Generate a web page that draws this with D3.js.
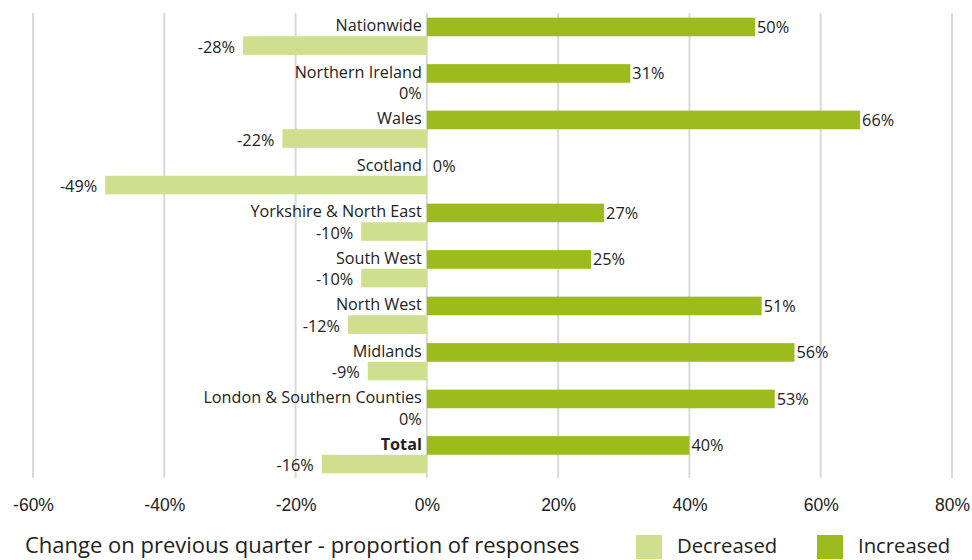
<!DOCTYPE html>
<html>
<head>
<meta charset="utf-8">
<script src="https://cdn.jsdelivr.net/npm/d3@7"></script>
<style>
  body { margin: 0; background: #fff; }
  svg { font-family: 'Source Sans Pro', 'Open Sans', sans-serif; }
</style>
</head>
<body>
<div id="app"></div>
<script>
const regions = ['Nationwide', 'Northern Ireland', 'Wales', 'Scotland', 'Yorkshire & North East',
  'South West', 'North West', 'Midlands', 'London & Southern Counties', 'Total']
const increased = [50, 31, 66, 0, 27, 25, 51, 56, 53, 40]
const decreased = [-28, 0, -22, -49, -10, -10, -12, -9, 0, -16]
const ticks = [-60, -40, -20, 0, 20, 40, 60, 80]
const series = ['Increased', 'Decreased']
const colors = { Increased: '#9cbb1c', Decreased: '#d0df8e' }

const width = 972, height = 560
const svg = d3.select('#app').append('svg').attr('width', width).attr('height', height)

const x = d3.scaleLinear().domain([-60, 80]).range([33, 952])
const y = d3.scaleBand().domain(regions).range([13, 478]).paddingInner(0.2).paddingOuter(0.1)
const sub = d3.scaleBand().domain(series).range([0, y.bandwidth()])

// gridlines
svg.append('g').selectAll('line').data(ticks).enter().append('line')
  .attr('x1', d => x(d)).attr('x2', d => x(d))
  .attr('y1', 13).attr('y2', 478)
  .attr('stroke', '#d9d9d9').attr('stroke-width', 2)

const rows = regions.map((r, i) => ({ region: r, inc: increased[i], dec: decreased[i] }))

const g = svg.append('g').selectAll('g').data(rows).enter().append('g')
  .attr('transform', d => `translate(0,${y(d.region)})`)

g.append('rect')
  .attr('x', x(0)).attr('y', sub('Increased'))
  .attr('width', d => x(d.inc) - x(0)).attr('height', sub.bandwidth())
  .attr('fill', colors.Increased)
g.append('rect')
  .attr('x', d => x(d.dec)).attr('y', sub('Decreased'))
  .attr('width', d => x(0) - x(d.dec)).attr('height', sub.bandwidth())
  .attr('fill', colors.Decreased)

// category labels
g.append('text')
  .attr('x', x(0) - 5).attr('y', sub('Increased') + sub.bandwidth() / 2 - 1.5)
  .attr('dy', '0.35em').attr('text-anchor', 'end')
  .attr('font-size', 16.2).attr('fill', '#222')
  .attr('font-weight', d => d.region === 'Total' ? 'bold' : 'normal')
  .text(d => d.region)

// value labels
g.append('text')
  .attr('x', d => x(d.inc) + (d.inc === 0 ? 6 : 2)).attr('y', sub('Increased') + sub.bandwidth() / 2)
  .attr('dy', '0.35em').attr('font-size', 16.3).attr('fill', '#222')
  .text(d => d.inc + '%')
g.append('text')
  .attr('x', d => x(d.dec) - (d.dec === 0 ? 5 : 8)).attr('y', sub('Decreased') + sub.bandwidth() / 2 + 1.5)
  .attr('dy', '0.35em').attr('text-anchor', 'end').attr('font-size', 16.3).attr('fill', '#222')
  .text(d => d.dec + '%')

// x axis labels
const axis = d3.axisBottom(x).tickValues(ticks).tickFormat(d => d + '%').tickSize(0).tickPadding(0)
const ax = svg.append('g').attr('transform', 'translate(0,499)').call(axis)
ax.select('.domain').remove()
ax.selectAll('text').attr('font-size', 17.5).attr('fill', '#222').attr('font-family', null)

// bottom title
svg.append('text').attr('x', 25).attr('y', 545).attr('dy', '0.35em')
  .attr('font-size', 22).attr('fill', '#222')
  .text('Change on previous quarter - proportion of responses')

// legend
const legend = [{ name: 'Decreased', x: 636 }, { name: 'Increased', x: 817 }]
const lg = svg.append('g').selectAll('g').data(legend).enter().append('g')
  .attr('transform', d => `translate(${d.x},535)`)
lg.append('rect').attr('width', 26).attr('height', 24).attr('fill', d => colors[d.name])
lg.append('text').attr('x', 41).attr('y', 11).attr('dy', '0.35em')
  .attr('font-size', 20.3).attr('fill', '#222').text(d => d.name)
</script>
</body>
</html>
